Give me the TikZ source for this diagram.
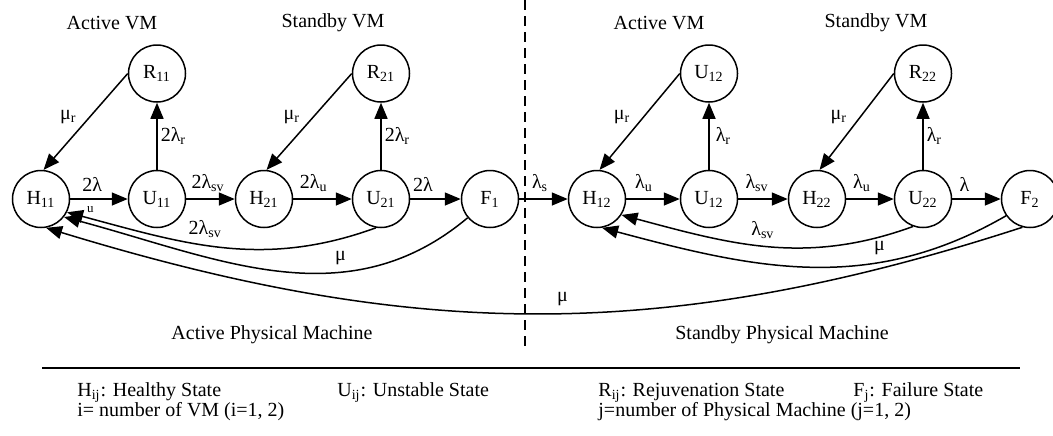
\documentclass[tikz,border=0pt]{standalone}
\usepackage{fontspec}
\setmainfont{Liberation Serif}
\usepackage{tikz}
\usetikzlibrary{arrows.meta,positioning}

\begin{document}
\begin{tikzpicture}[
  x=0.5pt,y=0.5pt,
  font=\fontsize{10}{12}\selectfont,
  st/.style={draw,circle,minimum size=28.5pt,inner sep=0pt,line width=0.75pt},
  arrow/.style={-{Triangle[length=8pt,width=6.5pt]},line width=0.75pt},
  legend/.style={anchor=west,inner sep=0pt}
]
  \useasboundingbox (0,0) rectangle (1053,-435);

  \node[st] (h11) at (41,-199) {H\textsubscript{11}};
  \node[st] (u11) at (157,-199) {U\textsubscript{11}};
  \node[st] (h21) at (264,-199) {H\textsubscript{21}};
  \node[st] (u21) at (381,-199) {U\textsubscript{21}};
  \node[st] (f1) at (490,-199) {F\textsubscript{1}};
  \node[st] (h12) at (597,-199) {H\textsubscript{12}};
  \node[st] (u12) at (709,-199) {U\textsubscript{12}};
  \node[st] (h22) at (817,-199) {H\textsubscript{22}};
  \node[st] (u22) at (923,-199) {U\textsubscript{22}};
  \node[st] (f2) at (1030,-199) {F\textsubscript{2}};
  \node[st,above=33.5pt of u11] (r11) {R\textsubscript{11}};
  \node[st,above=33.5pt of u21] (r21) {R\textsubscript{21}};
  \node[st,above=33.5pt of u12] (r12) {U\textsubscript{12}};
  \node[st,above=33.5pt of u22] (r22) {R\textsubscript{22}};

  \node (avm1) at (112,-23) {Active VM};
  \node (svm1) at (333,-23) {Standby VM};
  \node (avm2) at (659,-23) {Active VM};
  \node (svm2) at (876,-23) {Standby VM};
  \node (apm) at (272,-335) {Active Physical Machine};
  \node (spm) at (782,-335) {Standby Physical Machine};

  \draw[arrow] (h11) -- node[pos=0.38,above]{2λ} node[pos=0.35,below,font=\fontsize{6.5}{7}\selectfont]{u} (u11);
  \draw[arrow] (u11) -- node[pos=0.45,above]{2λ\textsubscript{sv}} (h21);
  \draw[arrow] (h21) -- node[pos=0.35,above]{2λ\textsubscript{u}} (u21);
  \draw[arrow] (u21) -- node[pos=0.25,above]{2λ} (f1);
  \draw[arrow] (f1) -- node[pos=0.43,above]{λ\textsubscript{s}} (h12);
  \draw[arrow] (h12) -- node[pos=0.33,above]{λ\textsubscript{u}} (u12);
  \draw[arrow] (u12) -- node[pos=0.38,above]{λ\textsubscript{sv}} (h22);
  \draw[arrow] (h22) -- node[pos=0.33,above]{λ\textsubscript{u}} (u22);
  \draw[arrow] (u22) -- node[pos=0.25,above]{λ} (f2);

  \draw[arrow] (u11) -- node[right,inner sep=1.5pt]{2λ\textsubscript{r}} (r11);
  \draw[arrow] (u21) -- node[right,inner sep=1.5pt]{2λ\textsubscript{r}} (r21);
  \draw[arrow] (u12) -- node[right,inner sep=3pt]{λ\textsubscript{r}} (r12);
  \draw[arrow] (u22) -- node[right,inner sep=1.5pt]{λ\textsubscript{r}} (r22);

  \draw[arrow] (r11.180) -- node[pos=0.45,left=3pt]{μ\textsubscript{r}} (h11.85);
  \draw[arrow] (r21.180) -- node[pos=0.45,left=3pt]{μ\textsubscript{r}} (h21.85);
  \draw[arrow] (r12.180) -- node[pos=0.45,left=3pt]{μ\textsubscript{r}} (h12.85);
  \draw[arrow] (r22.180) -- node[pos=0.45,left=3pt]{μ\textsubscript{r}} (h22.85);

  \draw[arrow] (u21.-100) to[out=-160,in=-15] node[pos=0.56,above]{2λ\textsubscript{sv}} (h11.-27);
  \draw[arrow] (f1.-140) to[out=-140,in=-15] node[pos=0.34,above]{μ} (h11.-38);
  \draw[arrow] (f2.-105) to[out=-162,in=-17] node[pos=0.47,above]{μ} (h11.-80);
  \draw[arrow] (u22.-110) to[out=-160,in=-15] node[pos=0.52,above]{λ\textsubscript{sv}} (h12.-33);
  \draw[arrow] (f2.-145) to[out=-150,in=-15] node[pos=0.32,above]{μ} (h12.-80);

  \coordinate (dtop) at (525,0);
  \coordinate (dbot) at (525,-347);
  \draw[line width=0.75pt,dash pattern=on 5pt off 3pt] (dtop) -- (dbot);
  \coordinate (rl) at (42,-368);
  \coordinate (rr) at (1020,-368);
  \draw[line width=0.8pt] (rl) -- (rr);

  \node[legend] (lh) at (77,-393) {H\textsubscript{ij}: Healthy State};
  \node[legend] (lu) at (337,-393) {U\textsubscript{ij}: Unstable State};
  \node[legend] (lr) at (598,-393) {R\textsubscript{ij}: Rejuvenation State};
  \node[legend] (lf) at (853,-393) {F\textsubscript{j}: Failure State};
  \node[legend] (li) at (77,-412) {i= number of VM (i=1, 2)};
  \node[legend] (lj) at (598,-412) {j=number of Physical Machine (j=1, 2)};
\end{tikzpicture}
\end{document}
